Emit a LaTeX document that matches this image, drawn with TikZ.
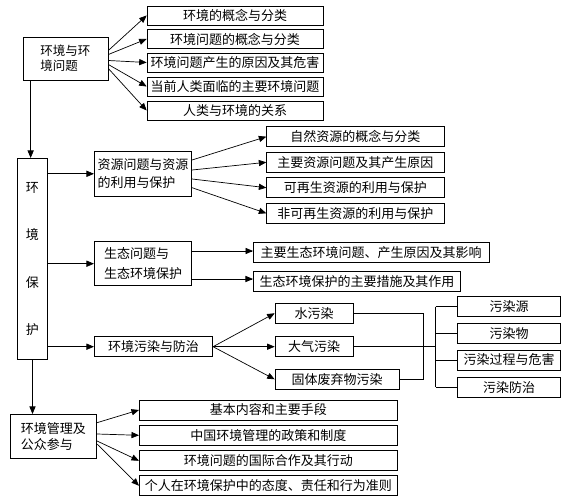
\documentclass[tikz,border=0pt]{standalone}
\usepackage{fontspec}
\setmainfont{Noto Sans CJK SC}
\usetikzlibrary{arrows, arrows.meta}

\begin{document}
\begin{tikzpicture}[x=1pt, y=-1pt, line width=0.7pt,
    bx/.style={draw, inner sep=0pt, minimum height=20, font=\fontsize{13}{15}\selectfont},
    bxa/.style={bx, minimum width=176, minimum height=19},
    bxm/.style={bx, align=left, font=\fontsize{13}{18.3}\selectfont},
    arr/.style={>=triangle 45, ->}]

    \useasboundingbox (0,0) rectangle (574,500);

    % 环境与环境问题
    \node[bx, minimum width=85, minimum height=43, align=left, font=\fontsize{12.5}{15}\selectfont] (hp) at (65.5,58.5) {环境与环\\境问题};
    \node[bxa] (h1) at (235,15.5) {环境的概念与分类};
    \node[bxa] (h2) at (235,39) {环境问题的概念与分类};
    \node[bxa] (h3) at (235,62.5) {环境问题产生的原因及其危害};
    \node[bxa] (h4) at (235,86.5) {当前人类面临的主要环境问题};
    \node[bxa] (h5) at (235,110.5) {人类与环境的关系};

    % 环境保护
    \node[bx, minimum width=29.6, minimum height=201, align=center, font=\fontsize{13}{47.4}\selectfont] (ep) at (32.5,258.8) {环\\境\\保\\护};

    \node[bxm, minimum width=97.4, minimum height=44.3] (rs) at (143,173.8) {资源问题与资源\\的利用与保护};
    \node[bx, minimum width=177.3] (r1) at (355.3,136.7) {自然资源的概念与分类};
    \node[bx, minimum width=177.3] (r2) at (355.3,162.3) {主要资源问题及其产生原因};
    \node[bx, minimum width=177.3] (r3) at (355.3,187.7) {可再生资源的利用与保护};
    \node[bx, minimum width=177.3] (r4) at (355.3,213.3) {非可再生资源的利用与保护};

    \node[bxm, minimum width=97.4, minimum height=44, font=\fontsize{13}{19.3}\selectfont] (eco) at (143,263.7) {生态问题与\\生态环境保护};
    \node[bx, minimum width=235.7] (e1) at (371.2,252.7) {主要生态环境问题、产生原因及其影响};
    \node[bx, minimum width=207.4] (e2) at (357,281.7) {生态环境保护的主要措施及其作用};

    \node[bx, minimum width=118.4] (pl) at (153.5,346.7) {环境污染与防治};
    \node[bx, minimum width=78] (w) at (314,313.3) {水污染};
    \node[bx, minimum width=78] (a) at (314,346.7) {大气污染};
    \node[bx, minimum width=124] (s) at (337,379.3) {固体废弃物污染};
    \node[bx, minimum width=103.4] (src) at (509,306.7) {污染源};
    \node[bx, minimum width=103.4] (sub) at (509,333.3) {污染物};
    \node[bx, minimum width=103.4] (prc) at (509,360) {污染过程与危害};
    \node[bx, minimum width=103.4] (ctl) at (509,387.3) {污染防治};

    % 环境管理及公众参与
    \node[bxm, minimum width=86.7, minimum height=44, font=\fontsize{13}{16.5}\selectfont] (mg) at (53.3,436.3) {环境管理及\\公众参与};
    \node[bx, minimum width=258] (m1) at (268.3,410) {基本内容和主要手段};
    \node[bx, minimum width=258] (m2) at (268.3,435.3) {中国环境管理的政策和制度};
    \node[bx, minimum width=258] (m3) at (268.3,460.7) {环境问题的国际合作及其行动};
    \node[bx, minimum width=258] (m4) at (268.3,485.7) {个人在环境保护中的态度、责任和行为准则};

    \draw[arr] ([yshift=8]hp.east) -- (h1.west);
    \draw[arr] ([yshift=4]hp.east) -- (h2.west);
    \draw[arr] ([yshift=-2]hp.east) -- (h3.west);
    \draw[arr] ([yshift=-6]hp.east) -- (h4.west);
    \draw[arr] ([yshift=-10]hp.east) -- (h5.west);

    \draw[arr] ([xshift=8]hp.south west) -- ([xshift=8]hp.south west |- ep.north);
    \draw[arr] (ep.south) -- (ep.south |- mg.north);

    \draw[arr] (ep.east |- rs) -- (rs.west);
    \draw[arr] (ep.east |- eco) -- (eco.west);
    \draw[arr] (ep.east |- pl) -- (pl.west);

    \draw[arr] ([yshift=13.8]rs.east) -- (r1.west);
    \draw[arr] ([yshift=3.8]rs.east) -- (r2.west);
    \draw[arr] ([yshift=-5.2]rs.east) -- (r3.west);
    \draw[arr] ([yshift=-13.9]rs.east) -- (r4.west);

    \draw[arr] ([yshift=12.7]eco.east) -- ([yshift=12.7]eco.east -| e1.west);
    \draw[arr] ([yshift=-15.3]eco.east) -- ([yshift=-15.3]eco.east -| e2.west);

    \draw[arr] (pl.east) -- (w.west);
    \draw[arr] (pl.east) -- (a.west);
    \draw[arr] (pl.east) -- (s.west);

    \coordinate (jw) at (423,313);
    \coordinate (ja) at (435.7,346.7);
    \draw (w.east) -| (jw |- s.east) -- (s.east);
    \draw (a.east) -- (ja);
    \draw (ja |- src.west) -- (ja |- ctl.west);
    \foreach \n in {src,sub,prc,ctl}
        \draw (ja |- \n.west) -- (\n.west);

    \draw[arr] ([yshift=13.6]mg.east) -- (m1.west);
    \draw[arr] ([yshift=2.3]mg.east) -- (m2.west);
    \draw[arr] ([yshift=-4.7]mg.east) -- (m3.west);
    \draw[arr] ([yshift=-7.7]mg.east) -- (m4.west);
\end{tikzpicture}
\end{document}
